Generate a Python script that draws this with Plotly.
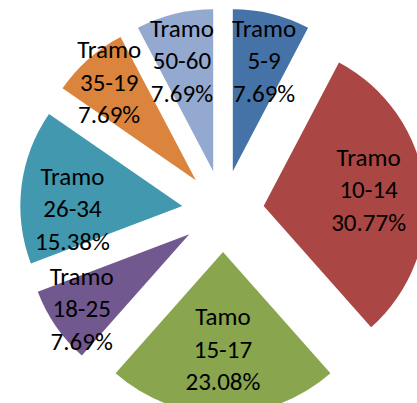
import plotly.graph_objects as go

# tramos de edad, en el orden del gráfico (sentido horario desde las 12)
labels = ["Tramo<br>5-9", "Tramo<br>10-14", "Tamo<br>15-17", "Tramo<br>18-25",
          "Tramo<br>26-34", "Tramo<br>35-19", "Tramo<br>50-60"]
counts = [1, 4, 3, 1, 2, 1, 1]
colors = ["#4572A7", "#AA4643", "#89A54E", "#71588F", "#4198AF", "#DB843D", "#93A9CF"]

base = "%{label}<br>%{percent:.2%}"
up = "&nbsp;<br>" + base      # baja la etiqueta media línea
down = base + "<br>&nbsp;"    # la sube media línea
templates = [up, down, base, base, up, base, up]

fig = go.Figure(go.Pie(
    labels=labels, values=counts, sort=False, direction="clockwise", rotation=0,
    marker=dict(colors=colors, line=dict(width=0)),
    pull=[0.253] * len(counts),
    textposition="inside", insidetextorientation="horizontal",
    texttemplate=templates,
    textfont=dict(family="Calibri, Carlito, Lato, sans-serif", size=25, color="black"),
    hoverinfo="label+value+percent",
    domain=dict(x=[0, 1], y=[0.019, 0.981]),
))
fig.update_layout(
    width=446, height=422, showlegend=False,
    margin=dict(l=0, r=0, t=0, b=0),
    paper_bgcolor="white", plot_bgcolor="white",
    uniformtext=dict(minsize=25, mode="show"),
)

fig.write_html("out.html", config={"displayModeBar": False}, post_script=(
    "document.body.style.margin='0';"
    "document.body.style.overflow='hidden';"
    "document.documentElement.style.overflow='hidden';"))
